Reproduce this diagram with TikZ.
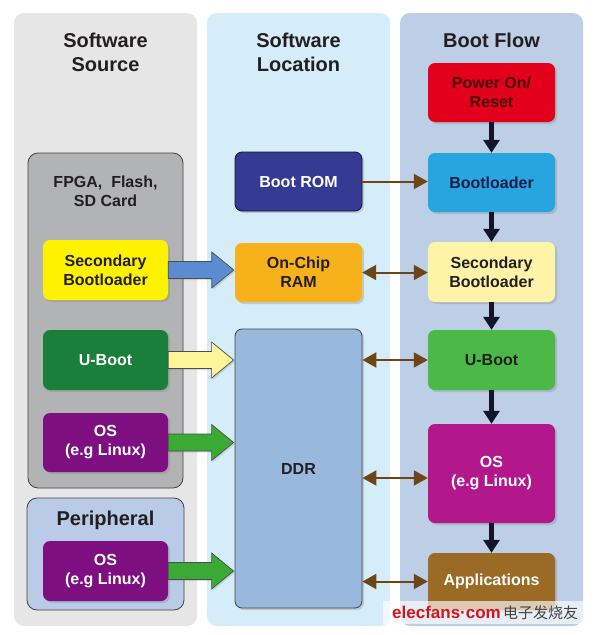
\documentclass[tikz,border=0pt]{standalone}
\usepackage{fontspec}
\setmainfont{Liberation Sans}
\newfontfamily\cjk{Noto Sans CJK SC}
\usetikzlibrary{arrows.meta,shadows,calc}
\definecolor{colA}{HTML}{E6E6E7}
\definecolor{colB}{HTML}{D5ECF9}
\definecolor{colC}{HTML}{BCCFE7}
\definecolor{fpgagray}{HTML}{B2B3B5}
\definecolor{periblue}{HTML}{B9CBE6}
\definecolor{ink}{HTML}{231F20}
\definecolor{ylw}{HTML}{FFF200}
\definecolor{dkgreen}{HTML}{1A7F3B}
\definecolor{purp}{HTML}{7D0F80}
\definecolor{navy}{HTML}{353A92}
\definecolor{orng}{HTML}{F7B21B}
\definecolor{ddrblue}{HTML}{98B8DE}
\definecolor{red1}{HTML}{E2001A}
\definecolor{redtxt}{HTML}{4A0A0A}
\definecolor{sky}{HTML}{27A5DF}
\definecolor{skytxt}{HTML}{1A1F4A}
\definecolor{paleyl}{HTML}{FFF3A8}
\definecolor{ltgreen}{HTML}{4CB848}
\definecolor{magenta1}{HTML}{B3178C}
\definecolor{brownbox}{HTML}{9B6A24}
\definecolor{brownarr}{HTML}{6E4517}
\definecolor{downarr}{HTML}{14142B}
\definecolor{bluearr}{HTML}{5B8BD0}
\definecolor{yelarr}{HTML}{FFF49A}
\definecolor{grnarr}{HTML}{3AAA35}
\definecolor{wmred}{HTML}{D7141A}
\newcommand\blockarrow[3]{%
  \filldraw[draw=ink!80, line width=0.7pt, fill=#3, line join=miter,
    drop shadow={shadow xshift=1.5pt,shadow yshift=-1.5pt,opacity=0.25}]
  let \p1=(#1.east), \p2=(#2.west) in
  (\x1,\y1+8.5pt) -- (\x2-23pt,\y1+8.5pt) -- (\x2-23pt,\y1+18pt) -- (\x2-1pt,\y1)
  -- (\x2-23pt,\y1-18pt) -- (\x2-23pt,\y1-8.5pt) -- (\x1,\y1-8.5pt) -- cycle;}
\begin{document}
\begin{tikzpicture}[x=1pt,y=-1pt,
  column/.style={rounded corners=10pt},
  header/.style={align=center, text=ink, font=\bfseries\fontsize{20}{24}\selectfont},
  sub/.style={align=center, text=ink, font=\bfseries\fontsize{16}{19}\selectfont},
  box/.style={rounded corners=7pt, minimum width=125pt, inner sep=0pt, align=center,
    font=\bfseries\fontsize{16}{19}\selectfont,
    drop shadow={shadow xshift=2pt,shadow yshift=-2pt,opacity=0.3}},
  wbox/.style={box, minimum width=127pt},
  group/.style={rounded corners=10pt, draw=ink!85, line width=0.8pt},
  brown/.style={draw=brownarr, line width=2pt},
  brownhead/.style={-{Triangle[width=15pt,length=14pt]}},
  brownboth/.style={{Triangle[width=15pt,length=14pt]}-{Triangle[width=15pt,length=14pt]}},
  down/.style={draw=downarr, line width=5pt, -{Triangle[width=16pt,length=13pt]}}]
\useasboundingbox (0,0) rectangle (596,635);
\fill[white] (0,0) rectangle (596,635);
% columns
\fill[colA, column] (14,13) rectangle (197,626);
\fill[colB, column] (207,13) rectangle (390,626);
\fill[colC, column] (400,13) rectangle (583,626);
\node[header] (h1) at (105.5,52) {Software\\Source};
\node[header] (h2) at (298.5,52) {Software\\Location};
\node[header] (h3) at (491.5,40) {Boot Flow};
% groups
\filldraw[group, fill=fpgagray] (28,153) rectangle (183,488);
\node[sub] (fpga) at (105.5,191) {FPGA,\ \ Flash,\\SD Card};
\filldraw[group, fill=periblue] (27,498) rectangle (184,610);
\node[header] (peri) at (105.5,520) {Peripheral};
% left boxes
\node[box, fill=ylw, text=ink, minimum height=60pt] (sb1) at (105.5,270) {Secondary\\Bootloader};
\node[box, fill=dkgreen, text=white, minimum height=60pt] (ub1) at (105.5,360) {U-Boot};
\node[box, fill=purp, text=white, minimum height=59pt] (os1) at (105.5,442.5) {OS\\(e.g Linux)};
\node[box, fill=purp, text=white, minimum height=60pt] (os2) at (105.5,571) {OS\\(e.g Linux)};
% middle boxes
\node[wbox, fill=navy, draw=downarr, line width=0.8pt, text=white, minimum height=59pt] (rom) at (298.5,181.5) {Boot ROM};
\node[wbox, fill=orng, text=ink, minimum height=59pt] (ram) at (298.5,272.5) {On-Chip\\RAM};
\node[wbox, fill=ddrblue, draw=ink!85, line width=0.8pt, text=ink, minimum height=279pt] (ddr) at (298.5,468.5) {DDR};
% right boxes
\node[wbox, fill=red1, text=redtxt, minimum height=59pt] (pwr) at (491.5,92.5) {Power On/\\Reset};
\node[wbox, fill=sky, text=skytxt, minimum height=59pt] (bl) at (491.5,182.5) {Bootloader};
\node[wbox, fill=paleyl, text=ink, minimum height=60pt] (sb2) at (491.5,272) {Secondary\\Bootloader};
\node[wbox, fill=ltgreen, text=ink, minimum height=60pt] (ub2) at (491.5,360) {U-Boot};
\node[wbox, fill=magenta1, text=white, minimum height=99pt] (os3) at (491.5,473.5) {OS\\(e.g Linux)};
\node[wbox, fill=brownbox, text=white, minimum height=57pt] (app) at (491.5,581.5) {Applications};
% block arrows
\blockarrow{sb1}{ram}{bluearr}
\blockarrow{ub1}{ddr}{yelarr}
\blockarrow{os1}{ddr}{grnarr}
\blockarrow{os2}{ddr}{grnarr}
% down arrows
\draw[down] (pwr.south) -- (bl.north);
\draw[down] (bl.south) -- (sb2.north);
\draw[down] (sb2.south) -- (ub2.north);
\draw[down] (ub2.south) -- (os3.north);
\draw[down] (os3.south) -- (app.north);
% brown arrows
\draw[brown, brownhead] (rom.east) -- (rom.east -| bl.west);
\draw[brown, brownboth] (ram.east) -- (ram.east -| sb2.west);
\draw[brown, brownboth] (ddr.east |- ub2.west) -- (ub2.west);
\draw[brown, brownboth] (ddr.east |- 0,478) -- (os3.west |- 0,478);
\draw[brown, brownboth] (ddr.east |- app.west) -- (app.west);
% watermark
\fill[white, opacity=0.65] (383,601) rectangle (594,624);
\node[anchor=west, inner sep=0pt, text=wmred, font=\bfseries\fontsize{17}{17}\selectfont] (wm1) at (392,612) {elecfans·com};
\node[anchor=west, inner sep=0pt, text=ink!85, font=\cjk\fontsize{15}{15}\selectfont] (wm2) at (503,613) {电子发烧友};
\end{tikzpicture}
\end{document}
